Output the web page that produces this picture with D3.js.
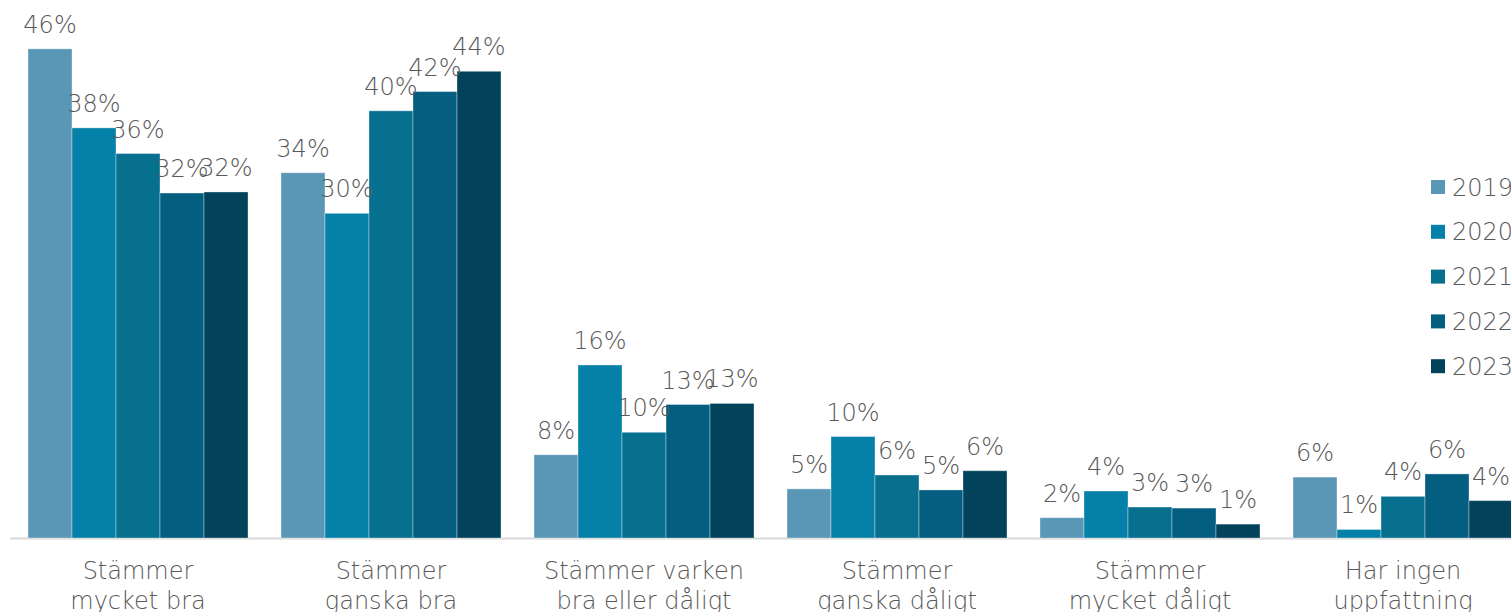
<!DOCTYPE html>
<html><head><meta charset="utf-8">
<script src="https://cdn.jsdelivr.net/npm/d3@7"></script>
<style>
html,body{margin:0;padding:0;background:#fff;overflow:hidden}
svg{display:block;font-family:"DejaVu Sans","Lato",sans-serif}
</style></head>
<body>
<svg id="c" width="1511" height="612"></svg>
<script>
const categories = [
  ["Stämmer","mycket bra"],
  ["Stämmer","ganska bra"],
  ["Stämmer varken","bra eller dåligt"],
  ["Stämmer","ganska dåligt"],
  ["Stämmer","mycket dåligt"],
  ["Har ingen","uppfattning"]
];
const years = ["2019","2020","2021","2022","2023"];
const v2019 = [45.8, 34.2, 7.8, 4.6, 1.9, 5.7];
const v2020 = [38.4, 30.4, 16.2, 9.5, 4.4, 0.8];
const v2021 = [36.0, 40.0, 9.9, 5.9, 2.9, 3.9];
const v2022 = [32.3, 41.8, 12.5, 4.5, 2.8, 6.0];
const v2023 = [32.4, 43.7, 12.6, 6.3, 1.3, 3.5];
const series = [v2019, v2020, v2021, v2022, v2023];
const colors = ["#5a97b6", "#0580a8", "#07708f", "#035e80", "#02435b"];

const svg = d3.select("#c");
const baseY = 538;
const y = d3.scaleLinear().domain([0, 46]).range([baseY, baseY - 46 * 10.68]);
const x0 = d3.scaleBand().domain(d3.range(categories.length))
  .range([11.5, 1529.5]).paddingInner(0.1304).paddingOuter(0.0652);
const x1 = d3.scaleBand().domain(years).range([0, x0.bandwidth()]).padding(0);

const textColor = "#595959";
const fw = 200;

svg.append("line").attr("x1", 10).attr("x2", 1511).attr("y1", baseY + 0.5).attr("y2", baseY + 0.5)
  .attr("stroke", "#d9d9d9").attr("stroke-width", 2);

const g = svg.append("g");
categories.forEach((cat, i) => {
  const gg = g.append("g").attr("transform", `translate(${x0(i)},0)`);
  years.forEach((yr, k) => {
    const v = series[k][i];
    gg.append("rect")
      .attr("x", x1(yr)).attr("width", x1.bandwidth())
      .attr("y", y(v)).attr("height", baseY - y(v))
      .attr("fill", colors[k])
      .attr("stroke", "rgba(255,255,255,0.35)").attr("stroke-width", 1);
  });
  years.forEach((yr, k) => {
    const v = series[k][i];
    gg.append("text")
      .attr("x", x1(yr) + x1.bandwidth() / 2).attr("y", y(v) - 16)
      .attr("text-anchor", "middle").attr("font-size", 24)
      .attr("fill", textColor).attr("font-weight", fw)
      .text(Math.round(v) + "%");
  });
  const t = svg.append("text").attr("text-anchor", "middle")
    .attr("font-size", 24).attr("fill", textColor).attr("font-weight", fw);
  cat.forEach((line, j) => {
    t.append("tspan").attr("x", x0(i) + x0.bandwidth() / 2).attr("y", 579 + j * 30).text(line);
  });
});

const leg = svg.append("g");
years.forEach((yr, k) => {
  const ly = 180 + k * 44.8;
  leg.append("rect").attr("x", 1431).attr("y", ly).attr("width", 14).attr("height", 14).attr("fill", colors[k]);
  leg.append("text").attr("x", 1452).attr("y", ly + 15.5).attr("font-size", 24)
    .attr("fill", textColor).attr("font-weight", fw).text(yr);
});
</script>
</body></html>
